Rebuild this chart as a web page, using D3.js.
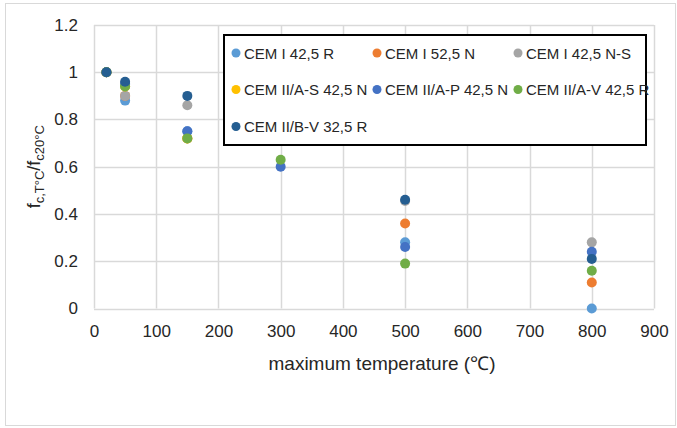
<!DOCTYPE html>
<html>
<head>
<meta charset="utf-8">
<script src="https://cdn.jsdelivr.net/npm/d3@7"></script>
<style>
  body { margin: 0; background: #fff; }
  text { font-family: "Liberation Sans", Arial, sans-serif; fill: #262626; }
</style>
</head>
<body>
<svg id="chart" width="677" height="428"></svg>
<script>
  // series names and colours, in legend order
  const seriesNames = ['CEM I 42,5 R', 'CEM I 52,5 N', 'CEM I 42,5 N-S',
    'CEM II/A-S 42,5 N', 'CEM II/A-P 42,5 N', 'CEM II/A-V 42,5 R', 'CEM II/B-V 32,5 R'];
  const seriesColors = ['#5b9bd5', '#ed7d31', '#a5a5a5', '#ffc000', '#4472c4', '#70ad47', '#255e91'];

  // [temperature, f_c,T / f_c20] pairs
  const cemI425R = [[20, 1], [50, 0.88], [150, 0.75], [500, 0.28], [800, 0]];
  const cemI525N = [[20, 1], [50, 0.9], [150, 0.72], [500, 0.36], [800, 0.11]];
  const cemI425NS = [[20, 1], [50, 0.9], [150, 0.86], [500, 0.455], [800, 0.28]];
  const cemIIAS425N = [[20, 1], [50, 0.94], [150, 0.72]];
  const cemIIAP425N = [[20, 1], [50, 0.95], [150, 0.75], [300, 0.6], [500, 0.26], [800, 0.24]];
  const cemIIAV425R = [[20, 1], [50, 0.94], [150, 0.72], [300, 0.63], [500, 0.19], [800, 0.16]];
  const cemIIBV325R = [[20, 1], [50, 0.96], [150, 0.9], [500, 0.46], [800, 0.21]];
  const seriesValues = [cemI425R, cemI525N, cemI425NS, cemIIAS425N, cemIIAP425N, cemIIAV425R, cemIIBV325R];

  const xTicks = [0, 100, 200, 300, 400, 500, 600, 700, 800, 900];
  const yTicks = [0, 0.2, 0.4, 0.6, 0.8, 1, 1.2];

  const svg = d3.select('#chart');
  const plot = { left: 94, right: 654, top: 25, bottom: 308.5 };

  const xScale = d3.scaleLinear().domain([0, 900]).range([plot.left, plot.right]);
  const yScale = d3.scaleLinear().domain([0, 1.2]).range([plot.bottom, plot.top]);

  // outer chart border
  svg.append('rect')
    .attr('x', 5.5).attr('y', 3.5)
    .attr('width', 670).attr('height', 422)
    .attr('fill', '#fff')
    .attr('stroke', '#d9d9d9');

  // gridlines
  svg.append('g')
    .selectAll('line.h')
    .data(yTicks)
    .join('line')
    .attr('x1', plot.left).attr('x2', plot.right)
    .attr('y1', d => Math.round(yScale(d)) + 0.5)
    .attr('y2', d => Math.round(yScale(d)) + 0.5)
    .attr('stroke', '#d9d9d9')
    .attr('stroke-width', 1.5);

  svg.append('g')
    .selectAll('line.v')
    .data(xTicks)
    .join('line')
    .attr('y1', plot.top).attr('y2', plot.bottom)
    .attr('x1', d => Math.round(xScale(d)) + 0.5)
    .attr('x2', d => Math.round(xScale(d)) + 0.5)
    .attr('stroke', '#d9d9d9')
    .attr('stroke-width', 1.5);

  // axes with only labels
  const xAxis = d3.axisBottom(xScale).tickValues(xTicks).tickSize(0).tickPadding(16).tickFormat(d3.format('d'));
  const yAxis = d3.axisLeft(yScale).tickValues(yTicks).tickSize(0).tickPadding(16).tickFormat(d => String(d));

  const gx = svg.append('g')
    .attr('transform', `translate(0, ${plot.bottom})`)
    .call(xAxis);
  const gy = svg.append('g')
    .attr('transform', `translate(${plot.left}, 0)`)
    .call(yAxis);
  [gx, gy].forEach(g => {
    g.select('.domain').remove();
    g.selectAll('text')
      .style('font-family', '"Liberation Sans", Arial, sans-serif')
      .style('font-size', '17px')
      .attr('fill', '#262626');
  });

  // axis titles
  svg.append('text')
    .attr('x', 382)
    .attr('y', 370)
    .attr('text-anchor', 'middle')
    .style('font-size', '19px')
    .text('maximum temperature (℃)');

  const yTitle = svg.append('text')
    .attr('transform', `translate(40, ${(plot.top + plot.bottom) / 2}) rotate(-90)`)
    .attr('text-anchor', 'middle')
    .style('font-size', '18px');
  yTitle.append('tspan').text('f');
  yTitle.append('tspan').attr('dy', 4).style('font-size', '13px').text('c,T°C');
  yTitle.append('tspan').attr('dy', -4).text('/f');
  yTitle.append('tspan').attr('dy', 4).style('font-size', '13px').text('c20°C');

  // points, drawn series by series so later ones sit on top
  seriesValues.forEach((values, i) => {
    svg.append('g')
      .selectAll('circle')
      .data(values)
      .join('circle')
      .attr('cx', d => xScale(d[0]))
      .attr('cy', d => yScale(d[1]))
      .attr('r', 5)
      .attr('fill', seriesColors[i]);
  });

  // legend
  const legend = svg.append('g');
  legend.append('rect')
    .attr('x', 224).attr('y', 35)
    .attr('width', 422).attr('height', 110)
    .attr('fill', '#fff')
    .attr('stroke', '#000')
    .attr('stroke-width', 2);

  const colX = [236, 377, 518];
  const rowY = [53, 89.5, 126.5];
  const items = legend.selectAll('g.item')
    .data(seriesNames)
    .join('g')
    .attr('transform', (d, i) => `translate(${colX[i % 3]}, ${rowY[Math.floor(i / 3)]})`);
  items.append('circle')
    .attr('r', 4.5)
    .attr('fill', (d, i) => seriesColors[i]);
  items.append('text')
    .attr('x', 8)
    .attr('y', 5.5)
    .style('font-size', '15px')
    .text(d => d);
</script>
</body>
</html>
